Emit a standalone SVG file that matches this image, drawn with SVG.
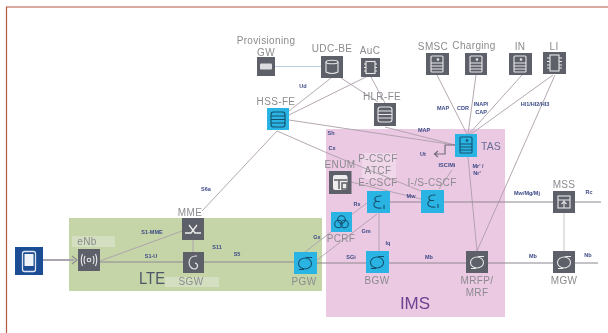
<svg xmlns="http://www.w3.org/2000/svg" width="608" height="333" viewBox="0 0 608 333">
<style>
text{font-family:"Liberation Sans",Arial,sans-serif}
.n{font-size:10px;letter-spacing:.35px;fill:#8b8b8f;text-anchor:middle}
.t{font-size:5.5px;font-weight:700;fill:#3c4a86;text-anchor:middle}
.l{fill:none;stroke:#ab9eaa;stroke-width:.9}
.m{fill:none;stroke:#8d8791;stroke-width:1.2}
.g{fill:#5d6068}
.c{fill:#2cb4e4}
.i{fill:none;stroke:#e8e8ea;stroke-width:1.1}
.d{fill:none;stroke:#14506e;stroke-width:1.1}
</style>
<defs>
<filter id="s" x="-5%" y="-5%" width="110%" height="110%"><feGaussianBlur stdDeviation="0.35"/></filter>
<g id="srv"><rect x="5" y="3" width="12" height="16" rx="1"/><path d="M5 10H17M5 13H17M5 16H17"/><circle cx="12" cy="6.500" r=".8"/></g>
<g id="lay"><rect x="4" y="4" width="14" height="15" rx="2.500"/><path d="M4 8H18M4 11.500H18M4 15H18"/></g>
<g id="gw"><ellipse cx="11" cy="11.500" rx="6.500" ry="5.500"/><path d="M5 17.500H10M12 5.500H18"/></g>
<g id="eps"><path d="M14.500 5C8 4.500 6 8 9.500 10.500H13M9.500 10.500C5 12 6 18 14.500 17M17 14V18"/></g>
</defs>
<g filter="url(#s)">
<path d="M608 7H6.500V333" fill="none" stroke="#b5583f" stroke-width="1.200"/>
<g id="areas">
<rect id="lte-area" x="69" y="218" width="253" height="73" fill="#c5d5a8"/>
<rect id="ims-area" x="326" y="129" width="179" height="188" fill="#ecc9e2"/>
<rect x="72" y="236" width="43" height="11" fill="#d3dfc0"/>
<rect x="165" y="277" width="54" height="10" fill="#d3dfc0"/>
<rect x="362" y="153" width="34" height="26" fill="#f0d8ea"/>
<text x="152" y="284" font-size="17" fill="#4b5666" text-anchor="middle" textLength="26" lengthAdjust="spacingAndGlyphs">LTE</text>
<text x="415" y="309" font-size="17" fill="#6b4290" text-anchor="middle">IMS</text>
</g>
<g id="connectors">
<path d="M275 66.500H321" fill="none" stroke="#b8cde2" stroke-width="1.200"/>
<path class="l" d="M331 78L289 111M366 77L289 115M341 78L378 102M371 77L385 103"/>
<path class="l" d="M289 120L455 145M385 127L455 145M277 131L202 211M277 131L332 155L421 191"/>
<path class="l" d="M437 75L467 134M476 75L468 134M522 75L469 134M553 75L471 134M555 75L477 251M468 157L477 251M452 170L439 189"/>
<path class="l" d="M351 182L421 199M367 203L351 215M317 260L377 214M305 252L331 232M379 213V251M100 261L182 231M193 240V252"/>
<path d="M564 213V251" fill="none" stroke="#c9c6c9" stroke-width="1"/>
<path class="m" d="M100 262H317M317 263H598M390 202H601"/>
<path d="M43 260H74" fill="none" stroke="#a9a4ad" stroke-width="2"/>
<path d="M72 256L77 260L72 264" fill="none" stroke="#8f8f8f" stroke-width="1.200"/>
<path d="M455 145H445V154H435M438 151L434.500 154L438 157" fill="none" stroke="#716b7a" stroke-width="1.200"/>
</g>
<g id="phone"><rect x="15" y="247" width="28" height="28" fill="#1c4d94"/><rect x="22.500" y="251.500" width="13" height="20" rx="2" fill="none" stroke="#dfe6f2" stroke-width="1.300"/><rect x="24.500" y="254" width="9" height="12" fill="#f0f3f8"/></g>
<g id="enb"><rect x="78" y="249" width="22" height="22" class="g"/><circle cx="89" cy="260" r="1.800" class="i"/><path class="i" d="M85 256Q83 260 85 264M93 256Q95 260 93 264M82.500 254Q80 260 82.500 266M95.500 254Q98 260 95.500 266"/><text class="n" x="87" y="245">eNb</text></g>
<g id="mme"><rect x="182" y="218" width="22" height="22" class="g"/><path d="M185 233H191L197 225M201 233H195L189 225" fill="none" stroke="#eee" stroke-width="1.300"/><text class="n" x="190" y="216">MME</text></g>
<g id="sgw"><rect x="183" y="252" width="21" height="21" class="g"/><path class="i" d="M197 256C187 255 187 268 194 269C198 269 199 264 195 263"/><text class="n" x="191" y="285">SGW</text></g>
<g id="pgw" transform="translate(294 252)"><rect width="23" height="22" class="c"/><use href="#gw" class="d"/><text class="n" x="10" y="33">PGW</text></g>
<g id="bgw" transform="translate(366 251)"><rect width="23" height="22" class="c"/><use href="#gw" class="d"/><text class="n" x="11" y="33">BGW</text></g>
<g id="mrfp" transform="translate(466 251)"><rect width="22" height="22" class="g"/><use href="#gw" class="i"/><text class="n" x="11" y="33">MRFP/</text><text class="n" x="11" y="45">MRF</text></g>
<g id="mgw" transform="translate(553 251)"><rect width="22" height="22" class="g"/><use href="#gw" class="i"/><text class="n" x="11" y="33">MGW</text></g>
<g id="mss" transform="translate(553 191)"><rect width="22" height="22" class="g"/><rect x="5" y="5" width="12" height="12" class="i"/><path class="i" d="M5 9H17M11 9V17M8.500 13L11 10.500L13.500 13"/><text class="n" x="11" y="-3">MSS</text></g>
<g id="e-cscf" transform="translate(367 191)"><rect width="23" height="22" class="c"/><use href="#eps" class="d"/><text class="n" x="11" y="-5">E-CSCF</text></g>
<g id="p-cscf"><text class="n" x="378" y="162">P-CSCF</text><text class="n" x="378" y="174">ATCF</text></g>
<g id="i-cscf" transform="translate(421 190)"><rect width="23" height="23" class="c"/><use href="#eps" class="d"/><text class="n" x="11" y="-4">I-/S-CSCF</text></g>
<g id="pcrf" transform="translate(331 212)"><rect width="21" height="20" class="c"/><circle cx="10.500" cy="7.500" r="3.800" class="d"/><circle cx="7.500" cy="12" r="3.800" class="d"/><circle cx="13.500" cy="12" r="3.800" class="d"/><text class="n" x="10" y="30">PCRF</text></g>
<g id="enum" transform="translate(329 171)"><rect width="22.500" height="23" class="g"/><rect x="4" y="4" width="14.500" height="15" rx="2" fill="#eee"/><path d="M5 9H18M10 9V18M13 12H18V18H13Z" fill="none" stroke="#5d6068" stroke-width="1.500"/><text class="n" x="11" y="-3">ENUM</text></g>
<g id="tas" transform="translate(455 134)"><rect width="22" height="23" class="c"/><use href="#srv" class="d"/><text x="26" y="16" font-size="10.500" fill="#666c96">TAS</text></g>
<g id="hss-fe" transform="translate(267 108)"><rect width="22" height="22" class="c"/><use href="#lay" class="d"/><text class="n" x="9" y="-3">HSS-FE</text></g>
<g id="hlr-fe" transform="translate(374 103)"><rect width="22" height="23" class="g"/><use href="#lay" class="i"/><text class="n" x="8" y="-3">HLR-FE</text></g>
<g id="prov-gw" transform="translate(257 57)"><rect width="18" height="19" class="g"/><rect x="3" y="6.500" width="12" height="6" rx="1" fill="#dcdce0"/><text class="n" x="9" y="-13">Provisioning</text><text class="n" x="9" y="-1">GW</text></g>
<g id="udc-be" transform="translate(321 56)"><rect width="22" height="22" class="g"/><ellipse cx="11" cy="6" rx="6" ry="1.800" class="i"/><path class="i" d="M5 6V16Q11 19 17 16V6"/><text class="n" x="11" y="-4">UDC-BE</text></g>
<g id="auc" transform="translate(361 58)"><rect width="19" height="19" class="g"/><rect x="5" y="3.500" width="9" height="12" class="i"/><path class="i" d="M3 6H5M3 9.500H5M3 13H5M14 6H16M14 9.500H16M14 13H16"/><text class="n" x="9" y="-4">AuC</text></g>
<g id="smsc" transform="translate(426 53)"><rect width="23" height="22" class="g"/><use href="#srv" class="i"/><text class="n" x="7" y="-3">SMSC</text></g>
<g id="charging" transform="translate(465 53)"><rect width="22" height="22" class="g"/><use href="#srv" class="i"/><text class="n" x="9" y="-4">Charging</text></g>
<g id="in" transform="translate(509 53)"><rect width="23" height="22" class="g"/><use href="#srv" class="i"/><text class="n" x="11" y="-3">IN</text></g>
<g id="li" transform="translate(543 52)"><rect width="23" height="22" class="g"/><rect x="7" y="3" width="9" height="16" class="i"/><path class="i" d="M4 6H7M4 9.500H7M4 13H7M4 16H7M16 6H19M16 9.500H19M16 13H19M16 16H19"/><text class="n" x="11" y="-2">LI</text></g>
<g id="labels">
<text class="t" x="303" y="88">Ud</text><text class="t" x="331" y="135">Sh</text><text class="t" x="332" y="150">Cx</text>
<text class="t" x="206" y="191">S6a</text><text class="t" x="152" y="234">S1-MME</text><text class="t" x="151" y="258">S1-U</text>
<text class="t" x="217" y="249">S11</text><text class="t" x="237" y="256">S5</text><text class="t" x="317" y="239">Gx</text>
<text class="t" x="357" y="206">Rx</text><text class="t" x="366" y="233">Gm</text><text class="t" x="388" y="245">Iq</text>
<text class="t" x="351" y="259">SGi</text><text class="t" x="429" y="259">Mb</text><text class="t" x="533" y="258">Mb</text><text class="t" x="588" y="257">Nb</text>
<text class="t" x="411" y="198">Mw</text><text class="t" x="527" y="195">Mw/Mg/Mj</text><text class="t" x="589" y="194">Rc</text>
<text class="t" x="443" y="110">MAP</text><text class="t" x="463" y="110">CDR</text><text class="t" x="481" y="106">INAP/</text><text class="t" x="481" y="114">CAP</text>
<text class="t" x="535" y="106">HI1/HI2/HI3</text><text class="t" x="424" y="132">MAP</text><text class="t" x="423" y="156">Ut</text>
<text class="t" x="447" y="167">ISC/Mi</text><text class="t" x="478" y="168">Mr' /</text><text class="t" x="477" y="175">Nr'</text>
</g>
</g>
</svg>
